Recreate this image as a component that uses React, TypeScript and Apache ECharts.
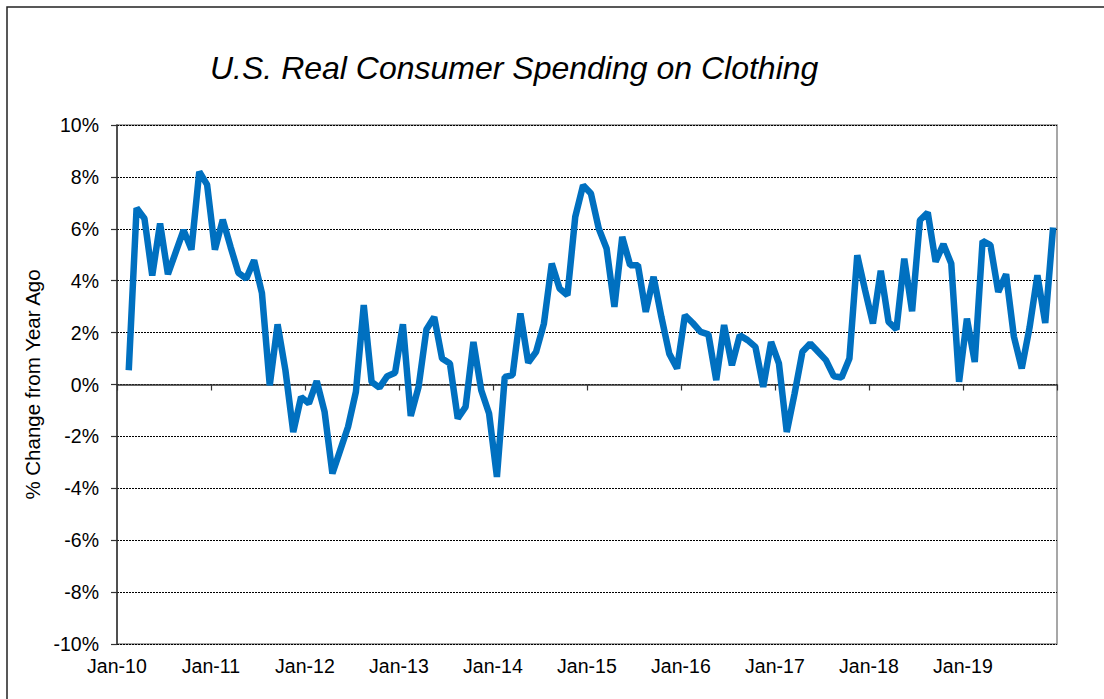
import React, { useEffect, useRef } from "react";
import * as echarts from "echarts";

const TITLE = "U.S. Real Consumer Spending on Clothing";
const Y_NAME = "% Change from Year Ago";
const YEARS = ["10", "11", "12", "13", "14", "15", "16", "17", "18", "19"];
const MONTHS = ["Jan", "Feb", "Mar", "Apr", "May", "Jun", "Jul", "Aug", "Sep", "Oct", "Nov", "Dec"];

// % change from a year ago, Jan-10 .. Dec-19 (Jan-10 has no value)
const v2010 = [null, 0.55, 6.8, 6.4, 4.2, 6.2, 4.25, 5.1, 5.95, 5.2, 8.2, 7.7];
const v2011 = [5.2, 6.35, 5.3, 4.3, 4.08, 4.79, 3.53, -0.03, 2.32, 0.55, -1.83, -0.48];
const v2012 = [-0.73, 0.13, -1.05, -3.43, -2.53, -1.63, -0.28, 3.06, 0.1, -0.12, 0.32, 0.45];
const v2013 = [2.32, -1.21, -0.09, 2.12, 2.6, 1.0, 0.81, -1.31, -0.86, 1.64, -0.22, -1.12];
const v2014 = [-3.56, 0.29, 0.36, 2.74, 0.84, 1.26, 2.35, 4.66, 3.7, 3.44, 6.46, 7.68];
const v2015 = [7.36, 6.01, 5.24, 2.99, 5.69, 4.6, 4.6, 2.8, 4.15, 2.6, 1.19, 0.62];
const v2016 = [2.67, 2.37, 2.03, 1.93, 0.17, 2.29, 0.74, 1.9, 1.71, 1.45, -0.09, 1.64];
const v2017 = [0.81, -1.83, -0.35, 1.26, 1.58, 1.26, 0.94, 0.32, 0.27, 1.0, 4.98, 3.63];
const v2018 = [2.35, 4.38, 2.41, 2.12, 4.85, 2.82, 6.33, 6.63, 4.73, 5.41, 4.66, 0.1];
const v2019 = [2.54, 0.87, 5.53, 5.37, 3.57, 4.25, 1.84, 0.62, 2.2, 4.21, 2.37, 6.05];

const categories: string[] = [];
YEARS.forEach((y) => MONTHS.forEach((m) => categories.push(`${m}-${y}`)));
const values = [
  ...v2010, ...v2011, ...v2012, ...v2013, ...v2014,
  ...v2015, ...v2016, ...v2017, ...v2018, ...v2019,
];

const FONT = "'Liberation Sans', Arial, sans-serif";

export default function App() {
  const ref = useRef<HTMLDivElement>(null);
  useEffect(() => {
    if (!ref.current) return;
    const chart = echarts.init(ref.current, null, { renderer: "svg" });
    chart.setOption({
      animation: false,
      backgroundColor: "#ffffff",
      textStyle: { fontFamily: FONT },
      title: {
        text: TITLE,
        left: 205,
        top: 47,
        textStyle: {
          fontFamily: FONT,
          fontStyle: "italic",
          fontWeight: "normal",
          fontSize: 32,
          color: "#000",
        },
      },
      graphic: [
        {
          type: "rect",
          shape: { x: 7, y: 7, width: 1300, height: 900 },
          style: { fill: "none", stroke: "#222", lineWidth: 1.5 },
          silent: true,
        },
      ],
      grid: {
        left: 117,
        right: 47,
        top: 125,
        bottom: 55,
        show: true,
        borderColor: "#8a8a8a",
        borderWidth: 1.5,
        backgroundColor: "transparent",
      },
      xAxis: {
        type: "category",
        data: categories,
        boundaryGap: true,
        axisLine: { lineStyle: { color: "#333", width: 1.5 } },
        axisTick: { show: true, interval: 11, length: 6, lineStyle: { color: "#333", width: 1.2 } },
        axisLabel: {
          interval: 11,
          fontSize: 19.5,
          color: "#000",
          margin: 12,
          fontFamily: FONT,
          padding: [0, 8, 0, 0],
        },
        splitLine: { show: false },
      },
      yAxis: {
        type: "value",
        min: -10,
        max: 10,
        interval: 2,
        name: Y_NAME,
        nameLocation: "middle",
        nameGap: 72,
        nameRotate: 90,
        nameTextStyle: { fontSize: 20.5, color: "#000", fontFamily: FONT },
        axisLine: { show: true, lineStyle: { color: "#333", width: 1.5 } },
        axisTick: { show: true, length: 6, lineStyle: { color: "#333", width: 1.2 } },
        axisLabel: {
          formatter: "{value}%",
          fontSize: 19.5,
          color: "#000",
          margin: 18,
          fontFamily: FONT,
        },
        splitLine: { show: true, lineStyle: { color: "#000", width: 1, type: [2, 1] } },
      },
      series: [
        {
          type: "line",
          data: values,
          showSymbol: false,
          symbol: "none",
          connectNulls: false,
          lineStyle: { color: "#0070C0", width: 6.5 },
          itemStyle: { color: "#0070C0" },
        },
      ],
    });
    return () => chart.dispose();
  }, []);
  return (
    <div
      ref={ref}
      style={{ position: "fixed", left: 0, top: 0, width: 1104, height: 699 }}
    />
  );
}
